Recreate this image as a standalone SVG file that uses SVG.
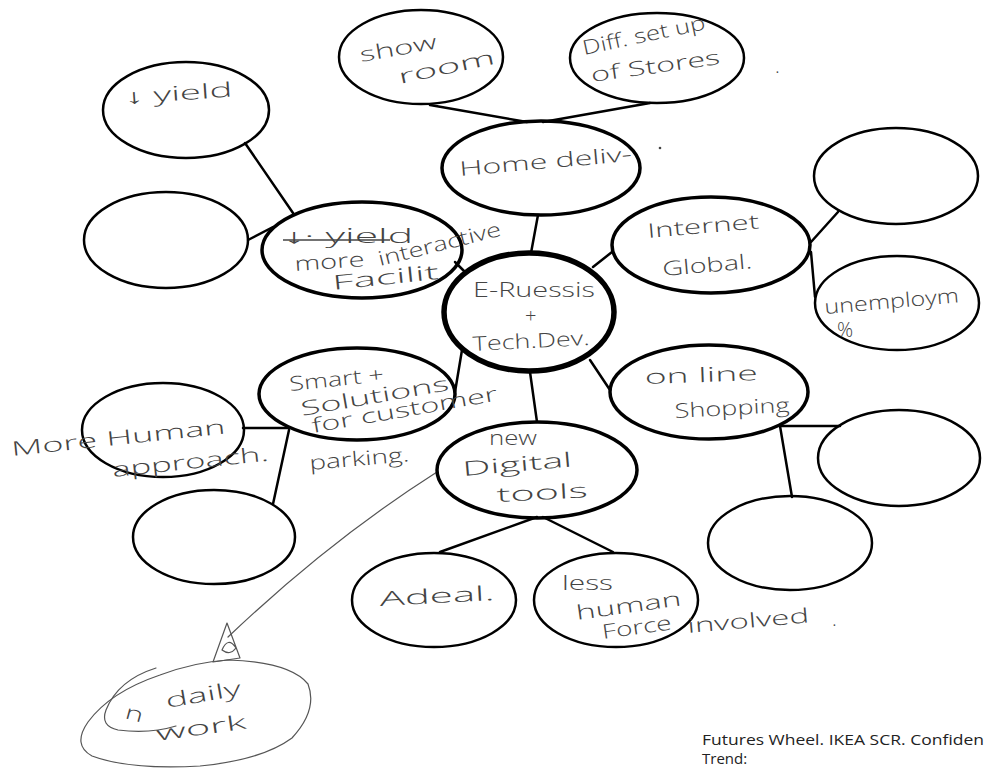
<svg xmlns="http://www.w3.org/2000/svg" width="984" height="769" viewBox="0 0 984 769">
<style>
.e0{fill:none;stroke:#000;stroke-width:5.5}
.e1{fill:none;stroke:#000;stroke-width:3.5}
.e2{fill:none;stroke:#000;stroke-width:2.5}
.c{fill:none;stroke:#000;stroke-width:2.5;stroke-linecap:round}
.thin{fill:none;stroke:#555;stroke-width:1.2;stroke-linecap:round;stroke-linejoin:round}
.hw{font-family:"Open Sans","Liberation Sans",sans-serif;font-weight:300;fill:#444;font-size:20px}
.ft{font-family:"Open Sans","Liberation Sans",sans-serif;font-size:15px;fill:#222}
</style>
<rect width="984" height="769" fill="#fff"/>
<g id="connectors">
<line class="c" x1="430" y1="105" x2="527" y2="122"/>
<line class="c" x1="543" y1="122" x2="650" y2="103"/>
<line class="c" x1="538" y1="215" x2="531" y2="253"/>
<line class="c" x1="245" y1="143" x2="293" y2="213"/>
<line class="c" x1="248" y1="240" x2="273" y2="227"/>
<line class="c" x1="455" y1="262" x2="465" y2="272"/>
<line class="c" x1="593" y1="267" x2="612" y2="252"/>
<line class="c" x1="811" y1="242" x2="838" y2="212"/>
<line class="c" x1="811" y1="252" x2="815" y2="297"/>
<line class="c" x1="462" y1="350" x2="455" y2="392"/>
<line class="c" x1="243" y1="428" x2="289" y2="428"/>
<line class="c" x1="289" y1="430" x2="273" y2="504"/>
<line class="c" x1="530" y1="372" x2="537" y2="422"/>
<line class="c" x1="590" y1="360" x2="610" y2="390"/>
<line class="c" x1="780" y1="426" x2="840" y2="426"/>
<line class="c" x1="780" y1="426" x2="792" y2="497"/>
<line class="c" x1="537" y1="517" x2="440" y2="552"/>
<line class="c" x1="543" y1="517" x2="613" y2="552"/>
<path class="thin" d="M437,472 Q330,540 228,637"/>
<path class="thin" d="M213,662 L227,623 L240,658 Z M222,650 Q228,636 236,648 Q230,656 222,650"/>
</g>
<g id="center">
<ellipse class="e0" cx="529" cy="312" rx="85" ry="59"/>
<text class="hw" x="473" y="297" textLength="122" lengthAdjust="spacingAndGlyphs">E-Ruessis</text>
<text class="hw" x="525" y="323" font-size="15">+</text>
<text class="hw" x="473" y="351" textLength="117" lengthAdjust="spacingAndGlyphs" transform="rotate(-3 473 351)">Tech.Dev.</text>
</g>
<g id="home-deliv">
<ellipse class="e1" cx="541" cy="168" rx="99" ry="47"/>
<text class="hw" x="460" y="176" textLength="173" lengthAdjust="spacingAndGlyphs" transform="rotate(-5 460 176)">Home  deliv-</text>
</g>
<g id="showroom">
<ellipse class="e2" cx="421" cy="57" rx="82" ry="47"/>
<text class="hw" x="361" y="62" textLength="78" lengthAdjust="spacingAndGlyphs" transform="rotate(-10 361 62)">show</text>
<text class="hw" x="400" y="84" textLength="98" lengthAdjust="spacingAndGlyphs" transform="rotate(-12 400 84)">room</text>
</g>
<g id="diff-setup">
<ellipse class="e2" cx="657" cy="58" rx="87" ry="45"/>
<text class="hw" x="584" y="55" textLength="125" lengthAdjust="spacingAndGlyphs" transform="rotate(-12 584 55)">Diff. set up</text>
<text class="hw" x="592" y="82" textLength="130" lengthAdjust="spacingAndGlyphs" transform="rotate(-8 592 82)">of Stores</text>
<text class="hw" x="775" y="73">.</text>
</g>
<g id="yield">
<ellipse class="e2" cx="186" cy="110" rx="83" ry="48"/>
<text class="hw" x="125" y="104" textLength="108" lengthAdjust="spacingAndGlyphs" transform="rotate(-4 125 104)">↓ yield</text>
</g>
<g id="empty-left">
<ellipse class="e2" cx="166" cy="240" rx="82" ry="48"/>
</g>
<g id="interactive">
<ellipse class="e1" cx="362" cy="250" rx="100" ry="48"/>
<text class="hw" x="283" y="243" textLength="130" lengthAdjust="spacingAndGlyphs">↓· yield</text>
<line x1="283" y1="240" x2="390" y2="240" stroke="#444" stroke-width="1.3"/>
<text class="hw" x="295" y="271" textLength="70" lengthAdjust="spacingAndGlyphs" transform="rotate(-4 295 271)">more</text>
<text class="hw" x="380" y="266" textLength="126" lengthAdjust="spacingAndGlyphs" transform="rotate(-14 380 266)">interactive</text>
<text class="hw" x="333" y="290" textLength="107" lengthAdjust="spacingAndGlyphs" transform="rotate(-6 333 290)">Facilit</text>
</g>
<g id="internet">
<ellipse class="e1" cx="711" cy="245" rx="99" ry="48"/>
<text class="hw" x="648" y="238" textLength="112" lengthAdjust="spacingAndGlyphs" transform="rotate(-5 648 238)">Internet</text>
<text class="hw" x="663" y="276" textLength="90" lengthAdjust="spacingAndGlyphs" transform="rotate(-5 663 276)">Global.</text>
<circle cx="660" cy="148" r="1.3" fill="#444"/>
</g>
<g id="empty-top-right">
<ellipse class="e2" cx="896" cy="176" rx="82" ry="48"/>
</g>
<g id="unemployment">
<ellipse class="e2" cx="897" cy="303" rx="82" ry="47"/>
<text class="hw" x="825" y="314" textLength="135" lengthAdjust="spacingAndGlyphs" transform="rotate(-5 825 314)">unemploym</text>
<text class="hw" x="837" y="337" font-size="21">%</text>
</g>
<g id="smart">
<ellipse class="e1" cx="357" cy="394" rx="98" ry="46"/>
<text class="hw" x="290" y="391" textLength="95" lengthAdjust="spacingAndGlyphs" transform="rotate(-6 290 391)">Smart +</text>
<text class="hw" x="302" y="416" textLength="150" lengthAdjust="spacingAndGlyphs" transform="rotate(-10 302 416)">Solutions</text>
<text class="hw" x="313" y="433" textLength="188" lengthAdjust="spacingAndGlyphs" transform="rotate(-10 313 433)" font-size="17">for customer</text>
<text class="hw" x="310" y="470" textLength="100" lengthAdjust="spacingAndGlyphs" transform="rotate(-5 310 470)">parking.</text>
</g>
<g id="human">
<ellipse class="e2" cx="163" cy="430" rx="81" ry="47"/>
<text class="hw" x="12" y="456" textLength="215" lengthAdjust="spacingAndGlyphs" transform="rotate(-6 12 456)">More Human</text>
<text class="hw" x="113" y="477" textLength="157" lengthAdjust="spacingAndGlyphs" transform="rotate(-6 113 477)">approach.</text>
</g>
<g id="empty-lower-left">
<ellipse class="e2" cx="214" cy="537" rx="81" ry="47"/>
</g>
<g id="online">
<ellipse class="e1" cx="709" cy="392" rx="99" ry="47"/>
<text class="hw" x="645" y="384" textLength="113" lengthAdjust="spacingAndGlyphs" font-size="16" transform="rotate(-2 645 384)">on line</text>
<text class="hw" x="675" y="418" textLength="115" lengthAdjust="spacingAndGlyphs" transform="rotate(-3 675 418)">Shopping</text>
</g>
<g id="empty-right">
<ellipse class="e2" cx="899" cy="458" rx="81" ry="48"/>
</g>
<g id="empty-mid-right">
<ellipse class="e2" cx="790" cy="543" rx="82" ry="47"/>
</g>
<g id="digital">
<ellipse class="e1" cx="537" cy="470" rx="100" ry="48"/>
<text class="hw" x="489" y="445" textLength="48" lengthAdjust="spacingAndGlyphs" font-size="13">new</text>
<text class="hw" x="463" y="476" textLength="110" lengthAdjust="spacingAndGlyphs" transform="rotate(-5 463 476)">Digital</text>
<text class="hw" x="497" y="502" textLength="91" lengthAdjust="spacingAndGlyphs" transform="rotate(-3 497 502)">tools</text>
</g>
<g id="adeal">
<ellipse class="e2" cx="434" cy="600" rx="82" ry="47"/>
<text class="hw" x="380" y="606" textLength="115" lengthAdjust="spacingAndGlyphs" transform="rotate(-3 380 606)">Adeal.</text>
</g>
<g id="less-human">
<ellipse class="e2" cx="616" cy="600" rx="82" ry="47"/>
<text class="hw" x="562" y="590" textLength="51" lengthAdjust="spacingAndGlyphs">less</text>
<text class="hw" x="577" y="620" textLength="106" lengthAdjust="spacingAndGlyphs" transform="rotate(-8 577 620)">human</text>
<text class="hw" x="603" y="639" textLength="70" lengthAdjust="spacingAndGlyphs" transform="rotate(-8 603 639)">Force</text>
<text class="hw" x="688" y="633" textLength="122" lengthAdjust="spacingAndGlyphs" transform="rotate(-5 688 633)">involved</text>
<text class="hw" x="832" y="626">.</text>
</g>
<g id="daily-work">
<path class="thin" d="M228,660 Q290,662 308,684 Q318,710 292,738 Q262,760 200,766 Q130,770 92,756 Q72,745 88,722 Q110,692 160,675 Q195,662 228,660 Z"/>
<path class="thin" d="M156,668 Q118,680 106,710 Q100,726 118,730 Q150,734 176,726"/>
<text class="hw" x="124" y="718" font-size="14" textLength="18" lengthAdjust="spacingAndGlyphs" transform="rotate(15 124 718)">n</text>
<text class="hw" x="167" y="708" textLength="76" lengthAdjust="spacingAndGlyphs" transform="rotate(-10 167 708)">daily</text>
<text class="hw" x="157" y="741" textLength="91" lengthAdjust="spacingAndGlyphs" transform="rotate(-8 157 741)">work</text>
</g>
<g id="footer">
<text class="ft" x="702" y="745" textLength="282" lengthAdjust="spacingAndGlyphs">Futures Wheel. IKEA SCR. Confiden</text>
<text class="ft" x="702" y="764">Trend:</text>
</g>
</svg>
